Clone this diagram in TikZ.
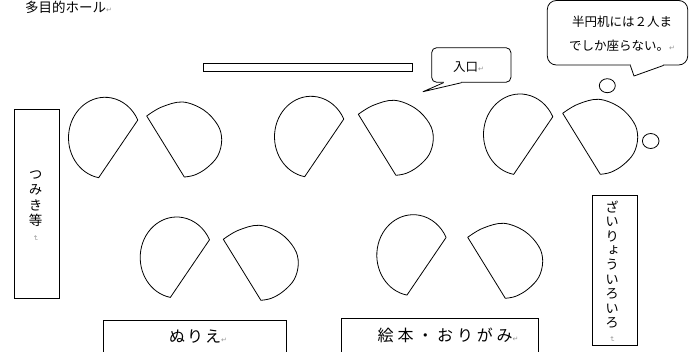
\documentclass[tikz,border=0pt]{standalone}
\usepackage{fontspec}
\usepackage{graphicx}
\setmainfont{Noto Sans CJK JP}
\newfontfamily\jpfont{Noto Sans CJK JP}
\newfontfamily\jpvfont[RawFeature=+vert]{Noto Sans CJK JP}
\newfontfamily\jpwideA[LetterSpace=12]{Noto Sans CJK JP}
\newfontfamily\jpwideB[LetterSpace=24]{Noto Sans CJK JP}
\newfontfamily\marksymfont{DejaVu Sans}
\usetikzlibrary{calc,shapes.geometric}
\definecolor{markgray}{RGB}{150,150,150}
\newcommand\retmark{{\marksymfont\fontsize{7}{7}\selectfont\textcolor{markgray}{↵}}}
\newcommand\retmarkv{\rotatebox{-90}{\retmark}}
\tikzset{
  piece/.style={draw=black, line width=0.8pt, line join=round},
  boxline/.style={draw=black, line width=0.8pt, rectangle, inner sep=0pt},
  callbox/.style={draw=black, line width=0.8pt, rectangle, fill=white, inner sep=0pt},
  bubble/.style={draw=black, line width=0.8pt, ellipse, inner sep=0pt},
  lbl/.style={inner sep=0pt, text=black, font=\jpfont\fontsize{12.5}{24}\selectfont},
  vlbl/.style={inner sep=0pt, text=black, align=center},
  leftpiece/.pic={\draw[piece] (-34,18.5) ++(100:36.5 and 40.5)
      arc[start angle=100, end angle=334, x radius=36.5, y radius=40.5] -- cycle;},
  rightpiece/.pic={\draw[piece] plot[smooth, tension=0.6] coordinates
      {(0,0) (15,-9) (36,-14) (57,-6) (71,9) (75,24) (71,40) (60,52) (48,59) (37.6,61)} -- cycle;}
}
\begin{document}
\begin{tikzpicture}[x=1pt, y=-1pt]
\useasboundingbox (0,0) rectangle (695,352);
\clip (0,0) rectangle (695,352);

% title
\node[lbl, anchor=west, font=\jpfont\fontsize{13.5}{15}\selectfont] (title) at (25,7) {多目的ホール\retmark};

% entrance bar
\node[boxline, minimum width=209.7, minimum height=8] (door) at (307.85,67.3) {};

% entrance callout
\node[callbox, rounded corners=5, minimum width=79.3, minimum height=34.6] (entr) at (471.3,65) {};
\node[lbl, anchor=west] (entrtxt) at (453,67) {入口\retmark};
\coordinate (tipA) at (423,91.7);
\coordinate (baseA1) at ($(entr.south west)+(12.3,0)$);
\coordinate (baseA2) at ($(entr.south west)+(30.3,0)$);
\fill[white] ($(baseA1)+(0.6,-1.3)$) rectangle ($(baseA2)+(-0.6,1.3)$);
\draw[line width=0.8pt, line join=round] (baseA1) -- (tipA) -- (baseA2);

% note callout
\node[callbox, rounded corners=9, minimum width=140.4, minimum height=64.5] (note) at (617.5,32.75) {};
\node[lbl, align=center] (notetxt) at (622,33.8) {半円机には２人ま\\でしか座らない。\retmark};
\coordinate (tipB) at (634,76);
\coordinate (baseB1) at ($(note.south west)+(83.4,0)$);
\coordinate (baseB2) at ($(note.south west)+(116.7,0)$);
\fill[white] ($(baseB1)+(0.6,-1.3)$) rectangle ($(baseB2)+(-0.6,1.3)$);
\draw[line width=0.8pt, line join=round] (baseB1) -- (tipB) -- (baseB2);

% thought bubbles
\node[bubble, minimum width=16, minimum height=14] (bub1) at (607.3,85.7) {};
\node[bubble, minimum width=16.6, minimum height=15] (bub2) at (650.7,141) {};

% tables (half-round desks)
\pic at (139,119.3) {leftpiece};
\pic at (146.7,116) {rightpiece};
\pic at (345,118.3) {leftpiece};
\pic at (358.3,114.3) {rightpiece};
\pic at (554,116) {leftpiece};
\pic at (562.7,113.3) {rightpiece};
\pic at (210.7,239) {leftpiece};
\pic at (223.3,239.3) {rightpiece};
\pic at (447.3,236.7) {leftpiece};
\pic at (467.7,237.3) {rightpiece};

% left vertical box
\node[boxline, minimum width=45, minimum height=189.2] (tsumikibox) at (36.5,203.9) {};
\node[vlbl, anchor=north, font=\jpvfont\fontsize{13.5}{15.5}\selectfont] (tsumiki) at (35.5,170.5) {つ\\み\\き\\等\\[-6pt]\retmarkv};

% right vertical box
\node[boxline, minimum width=45, minimum height=150.7] (zairyobox) at (614.8,270.35) {};
\node[vlbl, anchor=north, font=\jpvfont\fontsize{13.5}{14.4}\selectfont] (zairyo) at (612,200.5) {ざ\\い\\り\\ょ\\う\\い\\ろ\\い\\ろ\\[-5pt]\retmarkv};

% bottom boxes
\node[boxline, minimum width=182.7, minimum height=40] (nuriebox) at (194.65,340) {};
\node[lbl, anchor=west, font=\jpwideA\fontsize{16}{18}\selectfont] (nurie) at (169,336.7) {ぬりえ\retmark};
\node[boxline, minimum width=196.6, minimum height=41.7] (ehonbox) at (440,339.15) {};
\node[lbl, anchor=west, font=\jpwideB\fontsize{16}{18}\selectfont] (ehon) at (377.5,335) {絵本・おりがみ\retmark};
\end{tikzpicture}
\end{document}
